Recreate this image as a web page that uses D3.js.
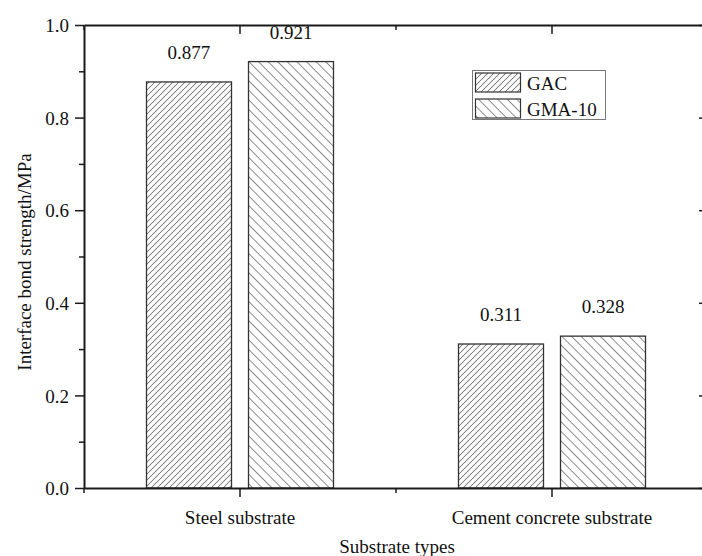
<!DOCTYPE html>
<html><head><meta charset="utf-8">
<script src="https://cdn.jsdelivr.net/npm/d3@7"></script>
<style>body{margin:0;background:#fff}svg{display:block}svg text{font-family:'Liberation Serif','Times New Roman',Times,serif !important;fill:#111}</style>
</head><body><svg id="c" width="702" height="556" font-family="Liberation Serif, Times New Roman, serif"></svg>
<script>
const categories = ["Steel substrate", "Cement concrete substrate"];
const series = ["GAC", "GMA-10"];
const gacValues = [0.877, 0.311];
const gmaValues = [0.921, 0.328];
const yTicks = [0.0, 0.2, 0.4, 0.6, 0.8, 1.0];
const yMinorTicks = [0.1, 0.3, 0.5, 0.7, 0.9];
const xTitle = "Substrate types";
const yTitle = "Interface bond strength/MPa";

const SERIF = "Liberation Serif, Times New Roman, serif";
const svg = d3.select("#c");
const L = 84, R = 708, T = 25, B = 488;
const FS = 19;

const x = d3.scaleBand().domain(categories).range([L, R]).padding(0);
const xi = d3.scaleBand().domain(series).range([0, x.bandwidth()]).paddingInner(17/102).paddingOuter(0.6127);
const y = d3.scaleLinear().domain([0, 1]).range([B, T]);

const defs = svg.append("defs");
function hatch(id, angle, spacing) {
  const p = defs.append("pattern").attr("id", id).attr("patternUnits", "userSpaceOnUse")
    .attr("width", spacing).attr("height", 20).attr("patternTransform", `rotate(${angle})`);
  p.append("rect").attr("width", spacing).attr("height", 20).attr("fill", "#fff");
  p.append("line").attr("x1", spacing/2).attr("x2", spacing/2).attr("y1", 0).attr("y2", 20)
    .attr("stroke", "#808080").attr("stroke-width", 0.9);
}
hatch("hGAC", 45, 6/Math.SQRT2);
hatch("hGMA", -45, 9.6/Math.SQRT2);
const fills = {"GAC": "url(#hGAC)", "GMA-10": "url(#hGMA)"};

const data = [];
categories.forEach((c, i) => {
  data.push({cat: c, s: "GAC", v: gacValues[i]});
  data.push({cat: c, s: "GMA-10", v: gmaValues[i]});
});

svg.append("g").selectAll("rect").data(data).join("rect")
  .attr("x", d => x(d.cat) + xi(d.s))
  .attr("y", d => y(d.v))
  .attr("width", xi.bandwidth())
  .attr("height", d => y(0) - y(d.v))
  .attr("fill", d => fills[d.s])
  .attr("stroke", "#333").attr("stroke-width", 1.3);

svg.append("g").selectAll("text").data(data).join("text")
  .attr("x", d => x(d.cat) + xi(d.s) + xi.bandwidth()/2)
  .attr("y", d => y(d.v) - 23)
  .attr("text-anchor", "middle").attr("font-size", FS).attr("font-family", SERIF)
  .text(d => d.v.toFixed(3));

const axStroke = "#1a1a1a";
function styleAxis(g) {
  g.attr("font-family", SERIF);
  g.selectAll("path.domain").attr("stroke", axStroke).attr("stroke-width", 2);
  g.selectAll(".tick line").attr("stroke", axStroke).attr("stroke-width", 1.5);
  g.selectAll(".tick text").attr("font-size", FS).attr("fill", "#111").attr("font-family", SERIF);
}
const gl = svg.append("g").attr("transform", `translate(${L},0)`)
  .call(d3.axisLeft(y).tickValues(yTicks).tickFormat(d3.format(".1f")).tickSize(9).tickPadding(6).tickSizeOuter(0));
styleAxis(gl);
gl.selectAll(".tick text").attr("dy", "0.35em");
svg.append("g").attr("transform", `translate(${L},0)`)
  .call(d3.axisLeft(y).tickValues(yMinorTicks).tickFormat("").tickSize(5).tickSizeOuter(0))
  .call(g => { g.select("path.domain").remove(); styleAxis(g); });
const gr = svg.append("g").attr("transform", `translate(${R},0)`)
  .call(d3.axisLeft(y).tickValues(yTicks).tickFormat("").tickSize(9).tickSizeOuter(0));
gr.selectAll(".tick line").attr("x2", -9);
styleAxis(gr);
const grm = svg.append("g").attr("transform", `translate(${R},0)`)
  .call(d3.axisLeft(y).tickValues(yMinorTicks).tickFormat("").tickSize(5).tickSizeOuter(0));
grm.select("path.domain").remove();
grm.selectAll(".tick line").attr("x2", -5);
styleAxis(grm);
const gb = svg.append("g").attr("transform", `translate(0,${B})`)
  .call(d3.axisBottom(x).tickSize(9).tickPadding(14).tickSizeOuter(0));
styleAxis(gb);
gb.selectAll(".tick text").attr("dy", "0.71em");
const boundaries = [L, (x(categories[0]) + x.bandwidth()), R];
svg.append("g").selectAll("line").data(boundaries).join("line")
  .attr("x1", d => d).attr("x2", d => d).attr("y1", B).attr("y2", B + 5)
  .attr("stroke", axStroke).attr("stroke-width", 1.5);
const gt = svg.append("g").attr("transform", `translate(0,${T})`)
  .call(d3.axisBottom(x).tickSize(9).tickFormat("").tickSizeOuter(0));
styleAxis(gt);
svg.append("g").selectAll("line").data(boundaries).join("line")
  .attr("x1", d => d).attr("x2", d => d).attr("y1", T).attr("y2", T + 5)
  .attr("stroke", axStroke).attr("stroke-width", 1.5);

svg.append("text").attr("x", 397).attr("y", 553).attr("font-family", SERIF)
  .attr("text-anchor", "middle").attr("font-size", FS).text(xTitle);
svg.append("text").attr("transform", "translate(31,262) rotate(-90)").attr("font-family", SERIF)
  .attr("text-anchor", "middle").attr("font-size", FS).text(yTitle);

const lg = svg.append("g");
lg.append("rect").attr("x", 472.5).attr("y", 70.5).attr("width", 133).attr("height", 49)
  .attr("fill", "#fff").attr("stroke", "#777").attr("stroke-width", 1);
series.forEach((s, i) => {
  const yy = 73 + i * 26;
  lg.append("rect").attr("x", 475.5).attr("y", yy).attr("width", 45).attr("height", 19)
    .attr("fill", fills[s]).attr("stroke", "#333").attr("stroke-width", 1.2);
  lg.append("text").attr("x", 527).attr("y", yy + 16.5).attr("font-size", FS).attr("font-family", SERIF).text(s);
});
</script></body></html>
